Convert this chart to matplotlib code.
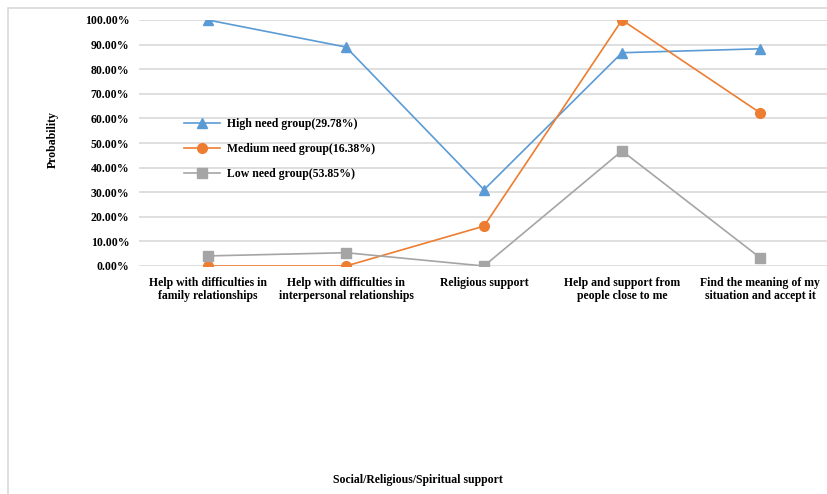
import numpy as np
import matplotlib.pyplot as plt
from matplotlib.patches import Rectangle
from matplotlib.ticker import FuncFormatter

categories = [
    "Help with difficulties in\nfamily relationships",
    "Help with difficulties in\ninterpersonal relationships",
    "Religious support",
    "Help and support from\npeople close to me",
    "Find the meaning of my\nsituation and accept it",
]
high_need = [100.0, 89.0, 31.0, 86.7, 88.3]
medium_need = [0.0, 0.0, 16.2, 100.0, 62.3]
low_need = [4.1, 5.4, 0.0, 46.8, 3.4]

plt.rcParams['font.family'] = ['Liberation Serif', 'DejaVu Serif']
plt.rcParams['font.weight'] = 'bold'
fs = 8.5

fig = plt.figure(figsize=(8.28, 4.94), dpi=100)
# axes spans 139..829 px horizontally, 20..266 px vertically
ax = fig.add_axes([139 / 828, 1 - 266 / 494, 690 / 828, 246 / 494])

# chart area border
fig.patches.append(Rectangle((8 / 828, -0.05), 1.0, 1 - 8 / 494 + 0.05,
                             transform=fig.transFigure, fill=False,
                             edgecolor='#d9d9d9', linewidth=1.2))

x = np.arange(len(categories))
ax.plot(x, high_need, color='#5B9BD5', marker='^', markersize=7, linewidth=1.2,
        label='High need group(29.78%)')
ax.plot(x, medium_need, color='#ED7D31', marker='o', markersize=7, linewidth=1.2,
        label='Medium need group(16.38%)')
ax.plot(x, low_need, color='#A5A5A5', marker='s', markersize=6.5, linewidth=1.2,
        label='Low need group(53.85%)')

ax.set_xlim(-0.5, len(categories) - 0.5)
ax.set_ylim(0, 100)
ax.set_yticks(np.arange(0, 101, 10))
ax.yaxis.set_major_formatter(FuncFormatter(lambda v, p: f"{v:.2f}%"))
ax.set_xticks(x)
ax.set_xticklabels(categories, fontsize=fs, fontweight='bold', linespacing=1.15)
ax.tick_params(axis='both', length=0, labelsize=fs)
ax.tick_params(axis='y', pad=7)
ax.tick_params(axis='x', pad=8)
for lbl in ax.get_yticklabels():
    lbl.set_fontweight('bold')

ax.grid(axis='y', color='#d9d9d9', linewidth=1.2)
ax.set_axisbelow(True)
for s in ax.spines.values():
    s.set_visible(False)

fig.text(53 / 828, 1 - 140 / 494, 'Probability', rotation=90, ha='center', va='center',
         fontsize=fs, fontweight='bold')
fig.text(418 / 828, 1 - 480 / 494, 'Social/Religious/Spiritual support', ha='center',
         va='center', fontsize=fs, fontweight='bold')

leg = ax.legend(loc='upper left', bbox_to_anchor=(0.05, 0.643), frameon=False,
                fontsize=fs, handlelength=3.0, handletextpad=0.6, labelspacing=1.1)
for t in leg.get_texts():
    t.set_fontweight('bold')

fig.savefig('out.png', dpi=100)
